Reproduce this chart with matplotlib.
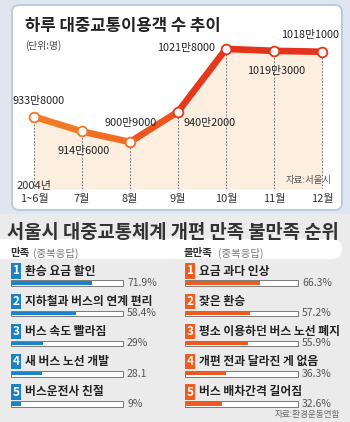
import matplotlib
matplotlib.use("Agg")
import matplotlib.pyplot as plt
from matplotlib.patches import FancyBboxPatch, Rectangle
import matplotlib.transforms as mtransforms

plt.rcParams['font.family'] = ['Noto Sans CJK KR', 'DejaVu Sans']

# ---- data ----
months = ["1~6월", "7월", "8월", "9월", "10월", "11월", "12월"]
riders = [933.8, 914.6, 900.9, 940.2, 1021.8, 1019.3, 1018.1]   # 만 명
rider_labels = ["933만8000", "914만6000", "900만9000", "940만2000",
                "1021만8000", "1019만3000", "1018만1000"]

good_items = ["환승 요금 할인", "지하철과 버스의 연계 편리", "버스 속도 빨라짐",
              "새 버스 노선 개발", "버스운전사 친절"]
good_vals = [71.9, 58.4, 29, 28.1, 9]
good_texts = ["71.9%", "58.4%", "29%", "28.1", "9%"]

bad_items = ["요금 과다 인상", "잦은 환승", "평소 이용하던 버스 노선 폐지",
             "개편 전과 달라진 게 없음", "버스 배차간격 길어짐"]
bad_vals = [66.3, 57.2, 55.9, 36.3, 32.6]
bad_texts = ["66.3%", "57.2%", "55.9%", "36.3%", "32.6%"]

W, H = 350, 422
fig = plt.figure(figsize=(W / 100, H / 100), dpi=100)


def px_axes(x0, y0, x1, y1):
    # pixel box (top-left origin) -> axes
    return fig.add_axes([x0 / W, 1 - y1 / H, (x1 - x0) / W, (y1 - y0) / H])


# background in pixel coords
bg = fig.add_axes([0, 0, 1, 1])
bg.set_xlim(0, W)
bg.set_ylim(H, 0)
bg.axis("off")
bg.add_patch(Rectangle((0, 0), W, 214, color="#dfe6ef", zorder=0))
bg.add_patch(Rectangle((0, 214), W, H - 214, color="#ebebeb", zorder=0))
bg.add_patch(FancyBboxPatch((12, 5), 330, 205, boxstyle="round,pad=0,rounding_size=7",
                            fc="white", ec="#b9cbe2", lw=1.4, zorder=1))
bg.add_patch(FancyBboxPatch((-20, 239), 362, 20, boxstyle="round,pad=0,rounding_size=10",
                            fc="white", ec="none", zorder=1))

bg.text(25, 26, "하루 대중교통이용객 수 추이", fontsize=12, fontweight="bold",
        color="#222222", va="center", ha="left", zorder=5)
bg.text(25, 46, "(단위:명)", fontsize=7, color="#444444", va="center", zorder=5)

bg.text(7, 233, "서울시 대중교통체계 개편 만족 불만족 순위", fontsize=13.5,
        fontweight="bold", color="#333333", va="center", zorder=5)
bg.text(10, 253, "만족", fontsize=7.5, fontweight="bold", color="#333333", va="center", zorder=5)
bg.text(33, 253, "(중복응답)", fontsize=7.5, color="#777777", va="center", zorder=5)
bg.text(184, 253, "불만족", fontsize=7.5, fontweight="bold", color="#333333", va="center", zorder=5)
bg.text(218, 253, "(중복응답)", fontsize=7.5, color="#777777", va="center", zorder=5)
bg.text(340, 414, "자료:환경운동연합", fontsize=6.2, style="italic", color="#666666",
        va="center", ha="right", zorder=5)

# ---- line chart ----
# x 0..6 -> px 34..322 ; y 900.9 at px 142, 0.77 px per unit
ax = px_axes(10, 20, 346, 189)
ax.set_xlim(-0.5, 6.5)
ax.set_ylim(900.9 - (189 - 142) / 0.77, 900.9 + (142 - 20) / 0.77)
ax.axis("off")
ax.patch.set_alpha(0)
xs = list(range(len(riders)))
ybot = ax.get_ylim()[0]
ax.fill_between(xs, riders, ybot, color="#fdefe0", lw=0, zorder=1)
for x, y in zip(xs, riders):
    ax.plot([x, x], [ybot, y], ls=(0, (1.5, 1.5)), color="#777777", lw=0.8, zorder=2)

seg_colors = ["#f27a24", "#f06d22", "#ec5420", "#e5391c", "#e3341b", "#e3341b"]
for i in range(len(riders) - 1):
    ax.plot(xs[i:i + 2], riders[i:i + 2], color=seg_colors[i], lw=4.8,
            solid_capstyle="round", zorder=3)
mk_colors = ["#f27a24", "#f27a24", "#f06d22", "#e5391c", "#e3341b", "#e3341b", "#e3341b"]
for x, y, c in zip(xs, riders, mk_colors):
    ax.plot(x, y, "o", ms=7, mfc="white", mec=c, mew=1.3, zorder=4)

offsets = [(5, 16, "center"), (2, -20, "center"), (1, 19, "center"), (6, -11, "left"),
           (-11, 1, "right"), (2, -20, "center"), (-12, 17, "center")]
for x, y, lab, (dx, dy, ha) in zip(xs, riders, rider_labels, offsets):
    ax.annotate(lab, (x, y), xytext=(dx, dy), textcoords="offset pixels",
                ha=ha, va="center", fontsize=7.8, color="#222222", zorder=5)

trans = mtransforms.blended_transform_factory(ax.transData, bg.transData)
for x, m in zip(xs, months):
    ax.text(x, 199, m, transform=trans, ha="center", va="center", fontsize=8,
            color="#333333", zorder=5)
ax.text(0, 186, "2004년", transform=trans, ha="center", va="center", fontsize=8,
        color="#333333", zorder=5)
ax.text(332, 181, "자료:서울시", transform=bg.transData, fontsize=6.8, style="italic",
        color="#555555", va="center", ha="right", zorder=6)


# ---- rank bars ----
def rank_column(x0, x1, items, vals, texts, color):
    row = 30.25
    bax = px_axes(x0, 283 - row / 2, x1, 283 + 4 * row + row / 2)
    bax.set_xlim(0, 100)
    bax.set_ylim(4.5, -0.5)
    bax.axis("off")
    bax.patch.set_alpha(0)
    n = len(vals)
    bax.barh(range(n), [100] * n, height=5.5 / row, color="white", edgecolor="#666666",
             lw=0.6, clip_on=False)
    bax.barh(range(n), vals, height=3.4 / row, color=color, lw=0, clip_on=False)
    for i, (item, t) in enumerate(zip(items, texts)):
        bax.annotate(t, (100, i), xytext=(4, 0), textcoords="offset pixels",
                     ha="left", va="center", fontsize=7.5, color="#555555",
                     annotation_clip=False)
        bax.annotate(str(i + 1), (0, i), xytext=(5, 12), textcoords="offset pixels",
                     ha="center", va="center", fontsize=8.5, fontweight="bold", color="white",
                     bbox=dict(boxstyle="square,pad=0.1", fc=color, ec="none"),
                     annotation_clip=False)
        bax.annotate(item, (0, i), xytext=(14, 12), textcoords="offset pixels",
                     ha="left", va="center", fontsize=8.5, fontweight="bold", color="#222222",
                     annotation_clip=False)


rank_column(11, 123, good_items, good_vals, good_texts, "#1b82c6")
rank_column(185, 298, bad_items, bad_vals, bad_texts, "#f05a1e")

fig.savefig("out.png", dpi=100)
